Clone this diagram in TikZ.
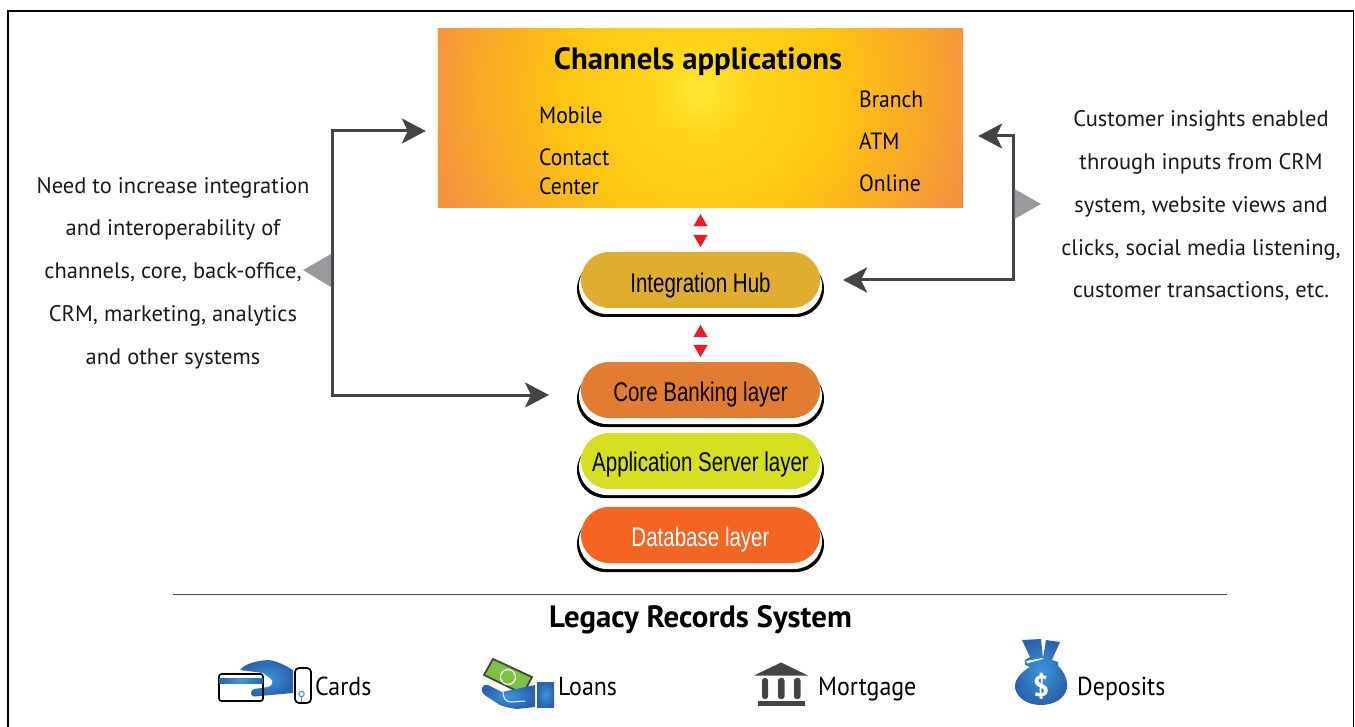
\documentclass[tikz,border=0pt]{standalone}
\usepackage{fontspec}
\setmainfont{PT Sans}
\newfontfamily\narrowfont[FakeStretch=0.76]{Liberation Sans}
\newfontfamily\midfont[FakeStretch=0.92]{PT Sans}
\usetikzlibrary{arrows.meta,shapes.misc}
\definecolor{arrowgray}{HTML}{444444}
\definecolor{tipgray}{HTML}{98999C}
\definecolor{tipred}{HTML}{ED1C24}
\definecolor{hubc}{HTML}{E0AE2F}
\definecolor{corec}{HTML}{E27C30}
\definecolor{appc}{HTML}{D5DF1F}
\definecolor{dbc}{HTML}{F46522}
\definecolor{blueA}{HTML}{3C96D6}
\definecolor{blueB}{HTML}{2B62B0}
\definecolor{billc}{HTML}{7DC242}
\pgfdeclareradialshading{chanshade}{\pgfpoint{0bp}{0bp}}{
  rgb(0bp)=(1.0,0.91,0.2);
  rgb(4.5bp)=(1.0,0.83,0.1);
  rgb(12bp)=(0.995,0.77,0.07);
  rgb(19bp)=(0.98,0.66,0.16);
  rgb(23.5bp)=(0.96,0.58,0.24);
  rgb(26bp)=(0.96,0.56,0.25);
  rgb(50bp)=(0.96,0.56,0.25)}
\tikzset{
  pill/.style={rounded rectangle,rounded rectangle arc length=180,minimum width=#1,minimum height=56,inner sep=0pt,outer sep=0pt},
  pilltext/.style={font=\narrowfont\fontsize{27}{30}\selectfont},
  body/.style={font=\fontsize{22.5}{42.7}\selectfont,align=center,inner sep=0pt,text=black!90},
  chan/.style={font=\midfont\fontsize{23.5}{29}\selectfont,align=left,anchor=west,inner sep=0pt},
  item/.style={font=\midfont\fontsize{26}{28}\selectfont,anchor=base west,inner sep=0pt},
  bigtitle/.style={font=\bfseries\fontsize{30.8}{32}\selectfont,inner sep=0pt},
  conn/.style={draw=arrowgray,line width=3pt,{Stealth[length=24pt,width=25pt,inset=6pt]}-{Stealth[length=24pt,width=25pt,inset=6pt]}},
  redarrow/.style={draw=white,line width=0.2pt,{Triangle[length=12pt,width=14pt,color=tipred,fill=tipred]}-{Triangle[length=12pt,width=14pt,color=tipred,fill=tipred]}},
  blueshade/.style={inner color=blueA,outer color=blueB,draw=none},
  iconline/.style={draw=black,line width=1.7pt,rounded corners=2.5pt},
}
\newcommand{\layerpill}[6]{%
  \node[pill=247,fill=black] (#1back) at (700.5,{-(#2+9)}) {};
  \node[pill=243,fill=white] (#1mid) at (700.5,{-(#2+6)}) {};
  \node[pill=239,fill=#3,pilltext,text=#4,text depth=0pt,text height=0pt] (#1) at (700.5,{-#2}) {\raisebox{#6}{#5}};
}
\begin{document}
\begin{tikzpicture}[x=1pt,y=1pt]
\useasboundingbox (0,0) rectangle (1355,-727);
\coordinate (fa) at (8,-727); \coordinate (fb) at (8,-11); \coordinate (fc) at (1353.5,-11); \coordinate (fd) at (1353.5,-727);
\draw[black,line width=1.5pt] (fa) -- (fb) -- (fc) -- (fd);

% channels box
\node[rectangle,minimum width=525,minimum height=178,inner sep=0pt] (channels) at (700.5,-118) {};
\begin{scope}
\clip (channels.south west) rectangle (channels.north east);
\shade[shading=chanshade] (channels.center) ++(0,28) circle (290);
\end{scope}
\node[bigtitle] (chantitle) at (698,-62) {Channels applications};
\node[chan] (mobile) at (539,-115) {Mobile};
\node[chan] (contact) at (539,-172) {Contact\\Center};
\node[chan] (branch) at (859,-99) {Branch};
\node[chan] (atm) at (859,-141) {ATM};
\node[chan] (online) at (859,-183) {Online};

% layers
\layerpill{hub}{280}{hubc}{black}{Integration Hub}{-13pt}
\layerpill{core}{390}{corec}{black}{Core Banking layer}{-11pt}
\layerpill{app}{461}{appc}{black}{Application Server layer}{-10pt}
\layerpill{db}{535}{dbc}{white}{Database layer}{-11pt}

% red double arrows
\draw[redarrow,shorten <=7pt,shorten >=5pt] (channels.south -| hub.north) -- (hub.north);
\draw[redarrow,shorten <=17pt,shorten >=5pt] (hub.south) -- (core.north);

% side connectors
\coordinate (lefttop) at (332,-131);
\coordinate (leftbot) at (332,-395);
\coordinate (righttop) at (1013,-136);
\coordinate (rightbot) at (1013,-280);
\draw[conn,shorten <=12pt,shorten >=32pt] (channels.west |- lefttop) -- (lefttop) -- (leftbot) -- (core.west |- leftbot);
\draw[conn,shorten >=23pt,shorten <=15pt] (channels.east |- righttop) -- (righttop) -- (rightbot) -- (hub.east |- rightbot);

% pointers
\coordinate (lp) at (303,-270);
\coordinate (rp) at (1041,-204);
\fill[tipgray] (lp) -- (331,-254) -- (331,-287) -- cycle;
\fill[tipgray] (rp) -- (1014.5,-189) -- (1014.5,-219) -- cycle;

% side text
\node[body] (lefttext) at (173,-273) {Need to increase integration\\and interoperability of\\channels, core, back-office,\\CRM, marketing, analytics\\and other systems};
\node[body] (righttext) at (1201,-206) {Customer insights enabled\\through inputs from CRM\\system, website views and\\clicks, social media listening,\\customer transactions, etc.};

% rule
\coordinate (ra) at (173,-594); \coordinate (rb) at (1227,-594);
\draw[black!70,line width=0.9pt] (ra) -- (rb);
\node[bigtitle] (legacy) at (700.5,-620) {Legacy Records System};

% bottom labels
\node[item] (cards) at (315,-695) {Cards};
\node[item] (loans) at (558,-695) {Loans};
\node[item] (mortgage) at (818,-695) {Mortgage};
\node[item] (deposits) at (1077,-695) {Deposits};

% cards icon
\shade[blueshade] (240,-670) .. controls (245,-664) and (255,-661) .. (268,-660) .. controls (278,-661) and (286,-666) .. (293,-670) -- (293,-693) -- (254,-696.5) .. controls (250,-696) and (250,-690) .. (254,-689) -- (268,-687) .. controls (272,-686) and (274,-682) .. (271,-679) -- (263,-673) -- cycle;
\draw[iconline] (219,-674) rectangle (263,-701);
\shade[left color=blueB,right color=blueB,middle color=blueA] (219,-678) rectangle (263,-683);
\draw[draw=black,line width=1.7pt,rounded corners=4pt] (295,-668) rectangle (311,-703);
\draw[blueA,line width=1.1pt] (301.5,-694) circle (2.7);
\draw[blueA,line width=1.1pt] (301.5,-697) -- (301.5,-702);

% loans icon
\draw[draw=arrowgray,fill=billc,line width=1.8pt] (493,-659) -- (532,-677) -- (523,-694) -- (484,-675) -- cycle;
\draw[white,line width=1.2pt,fill=billc] (508,-677) circle (7.5);
\shade[blueshade] (482,-688) .. controls (482,-686) and (485,-684) .. (488,-685) -- (502,-692) -- (535,-685) -- (535,-707) -- (517,-709) .. controls (510,-708) and (505,-707) .. (500,-705) -- (486,-696) .. controls (483,-694) and (481,-691) .. (482,-688) -- cycle;
\draw[white,line width=1pt] (503,-692) .. controls (503,-698) and (506,-702) .. (511,-702) -- (525,-701);
\shade[blueshade] (537,-682) rectangle (554,-707.5);

% mortgage icon
\fill[arrowgray] (781,-662.5) -- (808,-675.5) -- (754,-675.5) -- cycle;
\fill[arrowgray,rounded corners=2.5pt] (762,-678) rectangle (768,-699);
\fill[arrowgray,rounded corners=2.5pt] (778,-678) rectangle (784.5,-699);
\fill[arrowgray,rounded corners=2.5pt] (794,-678) rectangle (800.5,-699);
\fill[arrowgray] (758,-700.5) rectangle (804.5,-706);

% deposits icon
\shade[blueshade] (1022,-640) -- (1041,-639) -- (1043,-658) -- (1046,-640) -- (1060,-642) -- (1052,-660) -- (1058,-662) -- (1058,-666)
 .. controls (1065,-672) and (1068,-682) .. (1067,-688)
 .. controls (1065,-699) and (1053,-705) .. (1041,-705)
 .. controls (1029,-705) and (1017,-699) .. (1015,-688)
 .. controls (1014,-680) and (1021,-672) .. (1030,-667)
 -- (1025,-665) -- (1025,-660) -- (1030,-657) -- cycle;
\fill[white] (1026,-661) -- (1043,-658) -- (1043,-659) -- (1027,-663.5) -- cycle;
\node[font=\bfseries\fontsize{29}{30}\selectfont,text=white,inner sep=0pt] (dollar) at (1041,-686) {\$};
\end{tikzpicture}
\end{document}
